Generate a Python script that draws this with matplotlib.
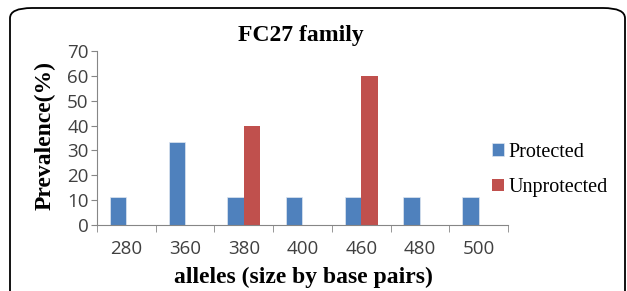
import numpy as np
import matplotlib.pyplot as plt
from matplotlib.patches import FancyBboxPatch

# data
alleles = ['280', '360', '380', '400', '460', '480', '500']
protected = [11.1, 33.3, 11.1, 11.1, 11.1, 11.1, 11.1]
unprotected = [0, 0, 40, 0, 60, 0, 0]

fig = plt.figure(figsize=(6.27, 2.91), dpi=100)
W, H = 627, 291

# rounded frame around the chart (bottom runs off the image)
frame = FancyBboxPatch((10 / W, -0.1), 615 / W, 1.1 - 8 / H,
                       boxstyle='round,pad=0,rounding_size=0.035',
                       transform=fig.transFigure, fill=False,
                       edgecolor='black', linewidth=1.3)
fig.patches.append(frame)

ax = fig.add_axes([97 / W, 1 - 225 / H, 411 / W, 174 / H])

x = np.arange(len(alleles))
w = 0.28
ax.bar(x - w / 2, protected, w, color='#4F81BD', edgecolor='#dfe6f0',
       linewidth=0.5, label='Protected')
ax.bar(x + w / 2, unprotected, w, color='#C0504D', edgecolor='none',
       label='Unprotected')

ax.set_xlim(-0.5, len(alleles) - 0.5)
ax.set_ylim(0, 70)
ax.set_yticks(range(0, 71, 10))
ax.set_xticks(x)
ax.set_xticklabels(alleles)
ax.set_xticks(np.arange(-0.5, len(alleles)), minor=True)
ax.tick_params(axis='x', which='major', length=0, pad=11)
ax.tick_params(axis='x', which='minor', length=5, color='#868686')
ax.tick_params(axis='y', length=4, color='#868686', pad=2)
for lab in ax.get_xticklabels() + ax.get_yticklabels():
    lab.set_fontfamily('Open Sans')
    lab.set_fontsize(13.5)
    lab.set_color('#404040')

for s in ['top', 'right']:
    ax.spines[s].set_visible(False)
for s in ['left', 'bottom']:
    ax.spines[s].set_color('#868686')

serif = 'Liberation Serif'
fig.text(301 / W, 1 - 35 / H, 'FC27 family', ha='center', va='center',
         fontfamily=serif, fontweight='bold', fontsize=17)
fig.text(45 / W, 1 - 136 / H, 'Prevalence(%)', ha='center', va='center',
         rotation=90, fontfamily=serif, fontweight='bold', fontsize=17)
fig.text(303 / W, 1 - 277 / H, 'alleles (size by base pairs)', ha='center',
         va='center', fontfamily=serif, fontweight='bold', fontsize=17)

ax.legend(loc='center left', bbox_to_anchor=(474 / W, 1 - 170 / H),
          bbox_transform=fig.transFigure, frameon=False,
          prop={'family': serif, 'size': 14.5}, handlelength=0.6,
          handleheight=0.6, handletextpad=0.2, labelspacing=0.8)

fig.savefig('out.png', dpi=100)
